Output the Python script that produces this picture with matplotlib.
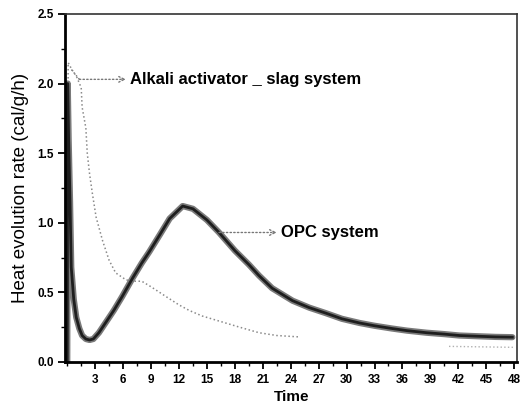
import matplotlib
matplotlib.use('Agg')
import matplotlib.pyplot as plt
from matplotlib import ticker
from matplotlib import font_manager
import numpy as np

# OPC system
opc_t = [0.0, 0.05, 0.15, 0.3, 0.43, 0.7, 0.97, 1.3, 1.6, 2.0, 2.4, 2.8, 3.4, 4.2,
         5.0, 5.9, 7.0, 8.0, 8.8, 10.0, 11.0, 12.4, 13.5, 15.0, 16.3, 18.0, 19.5,
         20.6, 22.0, 24.2, 26.0, 27.8, 29.5, 31.4, 33.0, 34.9, 36.5, 38.6, 40.5,
         42.1, 44.0, 46.0, 47.8]
opc_v = [0.0, 2.0, 1.6, 1.15, 0.68, 0.45, 0.32, 0.24, 0.19, 0.165, 0.158, 0.165,
         0.21, 0.29, 0.37, 0.47, 0.6, 0.71, 0.79, 0.92, 1.03, 1.12, 1.1, 1.02, 0.93,
         0.8, 0.7, 0.62, 0.53, 0.44, 0.39, 0.35, 0.31, 0.28, 0.26, 0.24, 0.225,
         0.21, 0.2, 0.19, 0.185, 0.18, 0.178]

# Alkali activator _ slag system
alk_t = [0.0, 0.1, 0.5, 1.0, 1.5, 1.6, 2.0, 2.15, 2.4, 2.7, 3.1, 3.8, 4.5, 5.2,
         6.3, 7.0, 8.0, 9.0, 10.6, 12.0, 13.1, 14.5, 16.0, 18.5, 20.6, 22.5, 24.9]
alk_v = [0.0, 2.15, 2.1, 2.05, 1.97, 1.83, 1.68, 1.5, 1.35, 1.21, 1.04, 0.87, 0.73,
         0.64, 0.59, 0.58, 0.58, 0.54, 0.47, 0.41, 0.37, 0.33, 0.30, 0.25, 0.21,
         0.19, 0.18]
alk_tail_t = [41.0, 43.0, 45.0, 47.0, 48.0]
alk_tail_v = [0.112, 0.11, 0.108, 0.106, 0.105]

x_ticks = list(range(3, 49, 3))
y_ticks = [0.0, 0.5, 1.0, 1.5, 2.0, 2.5]

names = {f.name for f in font_manager.fontManager.ttflist}
narrow = 'Liberation Sans Narrow' if 'Liberation Sans Narrow' in names else 'Liberation Sans'
plt.rcParams['font.family'] = ['Liberation Sans', 'DejaVu Sans']

fig = plt.figure(figsize=(5.23, 4.09), dpi=100)
ax = fig.add_axes([0.125, 0.115, 0.8635, 0.851])

ax.plot(alk_t, alk_v, ':', color='#8a8a8a', lw=1.1)
ax.plot(alk_tail_t, alk_tail_v, ':', color='#b0b0b0', lw=1.0)
ax.plot(opc_t, opc_v, '-', color='#7a7a7a', lw=4.5, solid_capstyle='round')
ax.plot(opc_t, opc_v, '-', color='#1e1e1e', lw=2.0)

ax.set_xlim(-0.2, 48.3)
ax.set_ylim(0, 2.5)
ax.set_xticks(x_ticks)
ax.set_xticklabels([str(t) for t in x_ticks])
ax.set_yticks(y_ticks)
ax.set_yticklabels([f'{v:.1f}' for v in y_ticks])
ax.xaxis.set_minor_locator(ticker.MultipleLocator(1.5))
ax.yaxis.set_minor_locator(ticker.MultipleLocator(0.25))
ax.tick_params(which='major', length=5, width=1.3, direction='out',
               labelsize=8.5, top=False, right=False)
ax.tick_params(which='minor', length=3, width=1.0, direction='out',
               top=False, right=False)
for lab in ax.get_xticklabels() + ax.get_yticklabels():
    lab.set_fontweight('bold')

ax.spines['left'].set_linewidth(2.0)
ax.spines['bottom'].set_linewidth(2.0)
ax.spines['top'].set_linewidth(1.2)
ax.spines['top'].set_color('#333333')
ax.spines['right'].set_linewidth(1.2)
ax.spines['right'].set_color('#333333')

ax.set_ylabel('Heat evolution rate (cal/g/h)', fontsize=13.5, labelpad=6)
ax.set_xlabel('Time', fontsize=11, fontweight='bold', labelpad=3)

arrow = dict(arrowstyle='->', linestyle=':', color='#777777', lw=1.0,
             shrinkA=0, shrinkB=0)
ax.plot([0.45, 1.3], [2.1, 2.03], ':', color='#777777', lw=1.0)
ax.annotate('', xy=(6.3, 2.03), xytext=(1.3, 2.03), arrowprops=arrow)
ax.text(6.7, 2.03, 'Alkali activator _ slag system', family=narrow,
        fontsize=12, fontweight='bold', va='center', ha='left')
ax.annotate('', xy=(22.5, 0.93), xytext=(16.3, 0.93), arrowprops=arrow)
ax.text(23.0, 0.93, 'OPC system', family=narrow,
        fontsize=12, fontweight='bold', va='center', ha='left')

fig.savefig('out.png', dpi=100)
